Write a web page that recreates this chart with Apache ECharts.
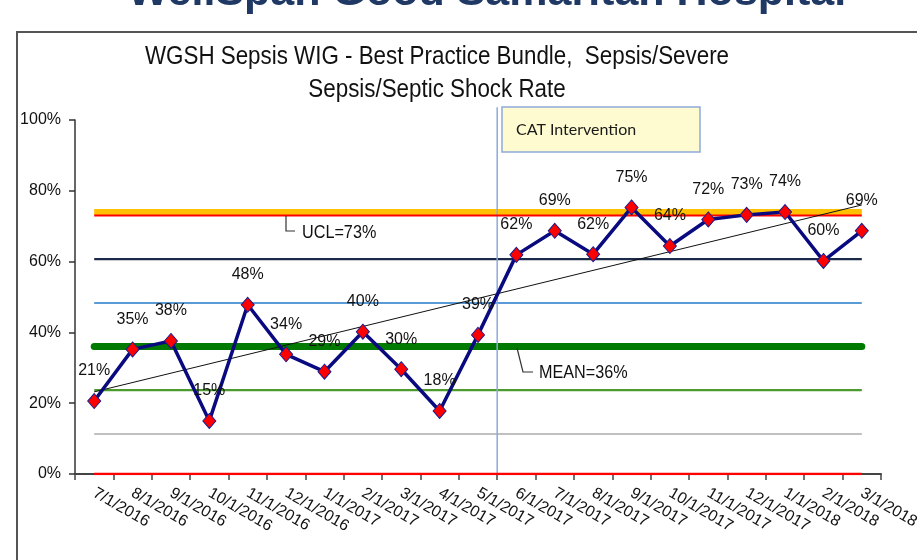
<!DOCTYPE html>
<html>
<head>
<meta charset="utf-8">
<script src="https://cdn.jsdelivr.net/npm/echarts@6/dist/echarts.min.js"></script>
<style>
html,body{margin:0;padding:0;background:#fff;}
#c{width:917px;height:560px;}
</style>
</head>
<body>
<div id="c"></div>
<script>
// ---- data ----
var categories = ['7/1/2016','8/1/2016','9/1/2016','10/1/2016','11/1/2016','12/1/2016','1/1/2017','2/1/2017','3/1/2017','4/1/2017','5/1/2017','6/1/2017','7/1/2017','8/1/2017','9/1/2017','10/1/2017','11/1/2017','12/1/2017','1/1/2018','2/1/2018','3/1/2018'];
var rates = [20.6, 35.2, 37.6, 15.0, 47.8, 33.8, 28.9, 40.2, 29.6, 17.8, 39.3, 61.9, 68.7, 62.1, 75.3, 64.4, 71.9, 73.2, 74.0, 60.2, 68.7];
var yTicks = [0, 20, 40, 60, 80, 100];
var trendEnds = [23.2, 76.0];
var targetLine = 74;
var ucl = 73;
var plus2Sigma = 60.7;
var plus1Sigma = 48.3;
var meanLine = 36;
var minus1Sigma = 23.7;
var minus2Sigma = 11.3;
var lcl = 0;
var interventionBoundary = 11; // start of 6/1/2017 band
var interventionTop = 103.6;

var SANS = "'Liberation Sans',Arial,sans-serif";
var first = categories[0], last = categories[categories.length - 1];

function hline(name, v, color, width, z, cap) {
  return {
    name: name, type: 'line', data: [[first, v], [last, v]],
    symbol: 'none', silent: true, z: z,
    lineStyle: { color: color, width: width, cap: cap || 'butt' },
    animation: false
  };
}

var chart = echarts.init(document.getElementById('c'), null, { renderer: 'canvas' });
chart.setOption({
  animation: false,
  backgroundColor: '#ffffff',
  grid: { left: 75, right: 36, top: 120, bottom: 86, containLabel: false, outerBoundsMode: 'none' },
  xAxis: [{
    type: 'category', data: categories, boundaryGap: true,
    axisLine: { show: true, lineStyle: { color: '#444', width: 2 } },
    axisTick: { show: true, length: 6, lineStyle: { color: '#444', width: 1.5 } },
    axisLabel: { rotate: -30, margin: 18, interval: 0, fontFamily: SANS, fontSize: 16, color: '#111' },
    splitLine: { show: false }
  }, {
    type: 'value', min: 0, max: categories.length, show: false
  }],
  yAxis: {
    type: 'value', min: yTicks[0], max: yTicks[yTicks.length - 1], interval: 20,
    axisLine: { show: true, lineStyle: { color: '#333', width: 1.5 } },
    axisTick: { show: true, length: 6, lineStyle: { color: '#333', width: 1.5 } },
    axisLabel: { formatter: '{value}%', margin: 14, fontFamily: SANS, fontSize: 16, color: '#111' },
    splitLine: { show: false }
  },
  series: [
    hline('-2 sigma', minus2Sigma, '#c0c0c0', 2.2, 1),
    hline('-1 sigma', minus1Sigma, '#4d9a2e', 2.2, 1),
    hline('Mean', meanLine, '#007a00', 7, 1, 'round'),
    hline('+1 sigma', plus1Sigma, '#5b9bd5', 2.2, 1),
    hline('+2 sigma', plus2Sigma, '#1c2a4a', 2.2, 1),
    hline('Target', targetLine, '#ffc000', 6, 1),
    hline('UCL', ucl, '#ff0000', 2, 2),
    hline('LCL', lcl, '#ff0000', 2.5, 2),
    {
      name: 'Intervention', type: 'line', xAxisIndex: 1,
      data: [[interventionBoundary, 0], [interventionBoundary, interventionTop]],
      symbol: 'none', clip: false, silent: true, z: 1,
      lineStyle: { color: '#8eaadb', width: 1.5 }
    },
    {
      name: 'Trend', type: 'line', data: [[first, trendEnds[0]], [last, trendEnds[1]]],
      symbol: 'none', silent: true, z: 3,
      lineStyle: { color: '#111', width: 1 }
    },
    {
      name: 'Rate', type: 'line', data: rates, z: 4,
      symbol: 'diamond', symbolSize: [13, 15],
      itemStyle: { color: '#ff0000', borderColor: '#1c1c8c', borderWidth: 1 },
      lineStyle: { color: '#0a0a80', width: 3.5 },
      label: {
        show: true, position: 'top', distance: 14,
        formatter: function (p) { return Math.round(p.value) + '%'; },
        fontFamily: SANS, fontSize: 16, color: '#111'
      }
    }
  ],
  graphic: [
    { type: 'rect', z: 0, shape: { x: 17, y: 32, width: 1000, height: 700 }, style: { fill: 'none', stroke: '#555', lineWidth: 2 } },
    { type: 'text', z: 10, x: 487, y: 15, style: { text: 'WellSpan Good Samaritan Hospital', font: "bold 43px " + SANS, fill: '#1f3864', textAlign: 'center', textVerticalAlign: 'bottom' } },
    { type: 'text', z: 10, x: 437, y: 57, scaleX: 0.86, style: { text: 'WGSH Sepsis WIG - Best Practice Bundle,  Sepsis/Severe', font: "26px " + SANS, fill: '#111', textAlign: 'center', textVerticalAlign: 'middle' } },
    { type: 'text', z: 10, x: 437, y: 90, scaleX: 0.86, style: { text: 'Sepsis/Septic Shock Rate', font: "26px " + SANS, fill: '#111', textAlign: 'center', textVerticalAlign: 'middle' } },
    { type: 'rect', z: 10, shape: { x: 502, y: 107, width: 198, height: 45 }, style: { fill: '#fdfbcf', stroke: '#8eaadb', lineWidth: 1.5 } },
    { type: 'text', z: 11, x: 516, y: 130, style: { text: 'CAT Intervention', font: "16px Lato,'Open Sans',sans-serif", fill: '#1a1a1a', textVerticalAlign: 'middle' } },
    { type: 'polyline', z: 10, shape: { points: [[286, 216], [286, 231], [295, 231]] }, style: { stroke: '#333', lineWidth: 1.2, fill: 'none' } },
    { type: 'text', z: 10, x: 302, y: 233, scaleX: 0.9, style: { text: 'UCL=73%', font: "18px " + SANS, fill: '#111', textVerticalAlign: 'middle' } },
    { type: 'polyline', z: 10, shape: { points: [[517, 348], [523, 372], [533, 372]] }, style: { stroke: '#333', lineWidth: 1.2, fill: 'none' } },
    { type: 'text', z: 10, x: 539, y: 373, scaleX: 0.9, style: { text: 'MEAN=36%', font: "18px " + SANS, fill: '#111', textVerticalAlign: 'middle' } }
  ]
});
</script>
</body>
</html>
